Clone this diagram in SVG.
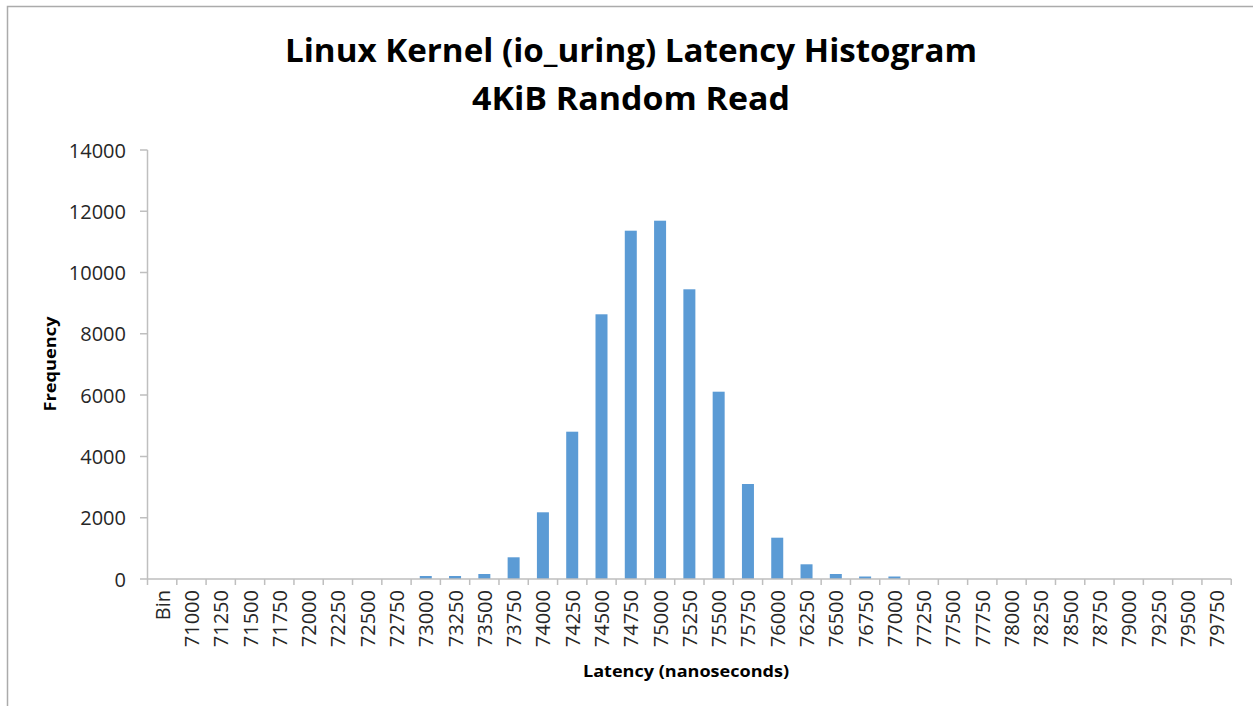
<svg xmlns="http://www.w3.org/2000/svg" width="1253" height="706" viewBox="0 0 1253 706">
  <style>
    .title { font-family: "Open Sans", "Liberation Sans", sans-serif; font-weight: 700; font-size: 32px; fill: #000; text-anchor: middle; }
    .axis-title { font-family: "Open Sans", "Liberation Sans", sans-serif; font-weight: 700; font-size: 16px; fill: #000; text-anchor: middle; }
    .tick { font-family: "Open Sans", "Liberation Sans", sans-serif; font-size: 20px; fill: #262626; }
    .ylab { text-anchor: end; dominant-baseline: central; }
    .xlab { text-anchor: end; dominant-baseline: central; }
    .axis { stroke: #bfbfbf; stroke-width: 1.5; fill: none; }
    .bar { fill: #5b9bd5; }
    .frame { stroke: #ababab; stroke-width: 1.5; fill: none; }
  </style>

  <rect x="0" y="0" width="1253" height="706" fill="#ffffff"/>
  <!-- chart frame (left and top edges) -->
  <path class="frame" d="M7.5,706 V6.5 H1253"/>

  <!-- titles -->
  <g id="chart-title">
    <text class="title" x="631" y="62" textLength="692" lengthAdjust="spacingAndGlyphs">Linux Kernel (io_uring) Latency Histogram</text>
    <text class="title" x="631" y="110" textLength="318" lengthAdjust="spacingAndGlyphs">4KiB Random Read</text>
  </g>
  <g id="y-title">
    <text class="axis-title" transform="translate(56,364) rotate(-90)" textLength="95" lengthAdjust="spacingAndGlyphs">Frequency</text>
  </g>
  <g id="x-title">
    <text class="axis-title" x="686" y="677" textLength="206" lengthAdjust="spacingAndGlyphs">Latency (nanoseconds)</text>
  </g>

  <!-- y axis labels: 2000 per step, 61.29px per step, zero at y=579 -->
  <g id="y-labels" class="tick ylab">
    <text x="126" y="579">0</text>
    <text x="126" y="517.7">2000</text>
    <text x="126" y="456.4">4000</text>
    <text x="126" y="395.1">6000</text>
    <text x="126" y="333.8">8000</text>
    <text x="126" y="272.6">10000</text>
    <text x="126" y="211.3">12000</text>
    <text x="126" y="150">14000</text>
  </g>

  <!-- bars (category width 29.29, bar width 12) -->
  <g id="bars">
    <rect class="bar" x="419.76" y="576" width="12" height="3"/>
    <rect class="bar" x="449.05" y="576" width="12" height="3"/>
    <rect class="bar" x="478.34" y="574" width="12" height="5"/>
    <rect class="bar" x="507.63" y="557.3" width="12" height="21.7"/>
    <rect class="bar" x="536.92" y="512.3" width="12" height="66.7"/>
    <rect class="bar" x="566.21" y="431.7" width="12" height="147.3"/>
    <rect class="bar" x="595.50" y="314.3" width="12" height="264.7"/>
    <rect class="bar" x="624.79" y="230.7" width="12" height="348.3"/>
    <rect class="bar" x="654.08" y="220.7" width="12" height="358.3"/>
    <rect class="bar" x="683.37" y="289.3" width="12" height="289.7"/>
    <rect class="bar" x="712.66" y="391.7" width="12" height="187.3"/>
    <rect class="bar" x="741.95" y="484" width="12" height="95"/>
    <rect class="bar" x="771.24" y="537.7" width="12" height="41.3"/>
    <rect class="bar" x="800.53" y="564.3" width="12" height="14.7"/>
    <rect class="bar" x="829.82" y="574" width="12" height="5"/>
    <rect class="bar" x="859.11" y="576.5" width="12" height="2.5"/>
    <rect class="bar" x="888.40" y="576.5" width="12" height="2.5"/>
  </g>

  <!-- axes and tick marks -->
  <g id="axes">
    <path class="axis" d="M147.5,150 V585 M147.5,579 H1231.3"/>
    <path class="axis" d="M140,579 H147.5 M140,517.7 H147.5 M140,456.4 H147.5 M140,395.1 H147.5 M140,333.8 H147.5 M140,272.6 H147.5 M140,211.3 H147.5 M140,150 H147.5"/>
    <path class="axis" d="M176.79,579 v6 M206.08,579 v6 M235.37,579 v6 M264.66,579 v6 M293.95,579 v6 M323.24,579 v6 M352.53,579 v6 M381.82,579 v6 M411.11,579 v6 M440.40,579 v6 M469.69,579 v6 M498.98,579 v6 M528.27,579 v6 M557.56,579 v6 M586.85,579 v6 M616.14,579 v6 M645.43,579 v6 M674.72,579 v6 M704.01,579 v6 M733.30,579 v6 M762.59,579 v6 M791.88,579 v6 M821.17,579 v6 M850.46,579 v6 M879.75,579 v6 M909.04,579 v6 M938.33,579 v6 M967.62,579 v6 M996.91,579 v6 M1026.20,579 v6 M1055.49,579 v6 M1084.78,579 v6 M1114.07,579 v6 M1143.36,579 v6 M1172.65,579 v6 M1201.94,579 v6 M1231.23,579 v6"/>
  </g>

  <!-- category labels, rotated to read upward -->
  <g id="x-labels" class="tick xlab">
    <text transform="translate(162.14,590) rotate(-90)">Bin</text>
    <text transform="translate(191.44,590) rotate(-90)">71000</text>
    <text transform="translate(220.73,590) rotate(-90)">71250</text>
    <text transform="translate(250.02,590) rotate(-90)">71500</text>
    <text transform="translate(279.31,590) rotate(-90)">71750</text>
    <text transform="translate(308.60,590) rotate(-90)">72000</text>
    <text transform="translate(337.89,590) rotate(-90)">72250</text>
    <text transform="translate(367.18,590) rotate(-90)">72500</text>
    <text transform="translate(396.47,590) rotate(-90)">72750</text>
    <text transform="translate(425.76,590) rotate(-90)">73000</text>
    <text transform="translate(455.05,590) rotate(-90)">73250</text>
    <text transform="translate(484.34,590) rotate(-90)">73500</text>
    <text transform="translate(513.63,590) rotate(-90)">73750</text>
    <text transform="translate(542.92,590) rotate(-90)">74000</text>
    <text transform="translate(572.21,590) rotate(-90)">74250</text>
    <text transform="translate(601.50,590) rotate(-90)">74500</text>
    <text transform="translate(630.79,590) rotate(-90)">74750</text>
    <text transform="translate(660.08,590) rotate(-90)">75000</text>
    <text transform="translate(689.37,590) rotate(-90)">75250</text>
    <text transform="translate(718.66,590) rotate(-90)">75500</text>
    <text transform="translate(747.95,590) rotate(-90)">75750</text>
    <text transform="translate(777.24,590) rotate(-90)">76000</text>
    <text transform="translate(806.53,590) rotate(-90)">76250</text>
    <text transform="translate(835.82,590) rotate(-90)">76500</text>
    <text transform="translate(865.11,590) rotate(-90)">76750</text>
    <text transform="translate(894.40,590) rotate(-90)">77000</text>
    <text transform="translate(923.69,590) rotate(-90)">77250</text>
    <text transform="translate(952.98,590) rotate(-90)">77500</text>
    <text transform="translate(982.27,590) rotate(-90)">77750</text>
    <text transform="translate(1011.56,590) rotate(-90)">78000</text>
    <text transform="translate(1040.85,590) rotate(-90)">78250</text>
    <text transform="translate(1070.14,590) rotate(-90)">78500</text>
    <text transform="translate(1099.43,590) rotate(-90)">78750</text>
    <text transform="translate(1128.72,590) rotate(-90)">79000</text>
    <text transform="translate(1158.01,590) rotate(-90)">79250</text>
    <text transform="translate(1187.30,590) rotate(-90)">79500</text>
    <text transform="translate(1216.59,590) rotate(-90)">79750</text>
  </g>
</svg>
